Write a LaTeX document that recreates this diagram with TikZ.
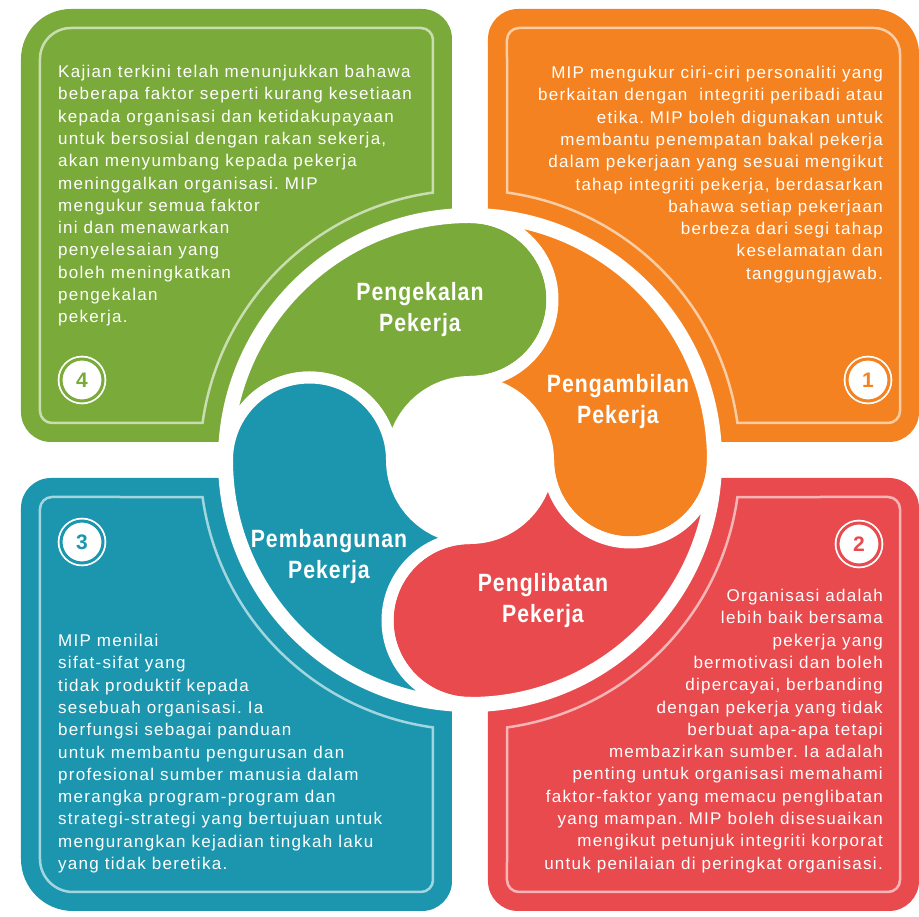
\documentclass[tikz,border=0pt]{standalone}
\usepackage{fontspec}
\setmainfont{Liberation Sans}
\newfontfamily\bodyfont[LetterSpace=7.5]{Liberation Sans}
\newfontfamily\headfont[FakeStretch=0.85,LetterSpace=4]{Liberation Sans}
\frenchspacing

\definecolor{cGreen}{RGB}{122,170,58}
\definecolor{cOrange}{RGB}{245,130,32}
\definecolor{cTeal}{RGB}{27,150,174}
\definecolor{cRed}{RGB}{233,74,78}

\begin{document}
\begin{tikzpicture}[x=1pt, y=1pt]
  % --- Styles (origin = centre of the wheel) ---
    \tikzset{
      rim/.style   = {draw=white, draw opacity=.6, line width=2.5pt},
      petal/.style = {draw=white, line width=12pt, line join=round},
      body/.style  = {font=\bodyfont\fontsize{17}{22.3}\selectfont, text=white, inner sep=0pt},
      head/.style  = {font=\headfont\bfseries\fontsize{25}{31}\selectfont, text=white, align=center, inner sep=0pt},
      badge/.style = {circle, fill=white, draw=white, double=#1, double distance=3pt, line width=1.8pt,
                      minimum size=42pt, inner sep=0pt, text=#1, font=\bfseries\fontsize{21}{21}\selectfont}
    }

    % --- Page ---
    \fill[white] (-470,-457) rectangle (449,460);
    \useasboundingbox (-470,-457) rectangle (449,460);

    % --- Four panels ---
    \fill[cGreen] (-449,48) -- (-449,401) arc[start angle=180,end angle=90,radius=50]
      -- (-48,451) arc[start angle=90,end angle=0,radius=30] -- (-18,18)
      -- (-419,18) arc[start angle=270,end angle=180,radius=30] -- cycle;
    \fill[cOrange] (18,18) -- (18,421) arc[start angle=180,end angle=90,radius=30]
      -- (404,451) arc[start angle=90,end angle=0,radius=45]
      -- (449,48) arc[start angle=0,end angle=-90,radius=30] -- cycle;
    \fill[cTeal] (-18,-18) -- (-419,-18) arc[start angle=90,end angle=180,radius=30]
      -- (-449,-399) arc[start angle=180,end angle=270,radius=52]
      -- (-48,-451) arc[start angle=270,end angle=360,radius=30] -- cycle;
    \fill[cRed] (18,-18) -- (18,-421) arc[start angle=180,end angle=270,radius=30]
      -- (419,-451) arc[start angle=270,end angle=360,radius=30]
      -- (449,-48) arc[start angle=0,end angle=90,radius=30] -- cycle;

    % --- Light inner outlines, bent round the wheel ---
    \draw[rim] (97.88:270) -- (-37,420) arc[start angle=0,end angle=90,radius=12]
      -- (-399,432) arc[start angle=90,end angle=180,radius=31]
      -- (-430,49) arc[start angle=180,end angle=270,radius=12]
      -- (172.12:270) arc[start angle=172.12,end angle=97.88,radius=270] -- cycle;
    \draw[rim] (82.12:270) -- (37,420) arc[start angle=180,end angle=90,radius=12]
      -- (404,432) arc[start angle=90,end angle=0,radius=26]
      -- (430,49) arc[start angle=0,end angle=-90,radius=12]
      -- (7.88:270) arc[start angle=7.88,end angle=82.12,radius=270] -- cycle;
    \draw[rim] (187.88:270) -- (-418,-37) arc[start angle=90,end angle=180,radius=12]
      -- (-430,-399) arc[start angle=180,end angle=270,radius=33]
      -- (-49,-432) arc[start angle=270,end angle=360,radius=12]
      -- (262.12:270) arc[start angle=262.12,end angle=187.88,radius=270] -- cycle;
    \draw[rim] (277.88:270) -- (37,-420) arc[start angle=180,end angle=270,radius=12]
      -- (418,-432) arc[start angle=270,end angle=360,radius=12]
      -- (430,-49) arc[start angle=0,end angle=90,radius=12]
      -- (352.12:270) arc[start angle=352.12,end angle=277.88,radius=270] -- cycle;

    % --- Wheel: white disc and four swirl petals (round head, hollow tail) ---
    \fill[white] (0,0) circle[radius=252];
    \foreach \rot/\col in {0/cGreen,-90/cOrange,-180/cRed,-270/cTeal}
      \filldraw[petal, fill=\col, rotate=\rot] (180:243) arc[start angle=180,end angle=90,radius=243]
        arc[start angle=90,end angle=-90,radius=82.5]
        arc[start angle=90,end angle=180,radius=78]
        arc[start angle=0,end angle=180,radius=82.5] -- cycle;

    % --- Petal titles ---
    \node[head] (hdRetain)  at (-50,150)  {Pengekalan\\Pekerja};
    \node[head] (hdHire)    at (148,58)   {Pengambilan\\Pekerja};
    \node[head] (hdDevelop) at (-141,-97) {Pembangunan\\Pekerja};
    \node[head] (hdEngage)  at (73,-141)  {Penglibatan\\Pekerja};

    % --- Panel texts ---
    \node[body, align=left, anchor=north west] (txtRetain) at (-412,395)
      {Kajian terkini telah menunjukkan bahawa\\ beberapa faktor seperti kurang kesetiaan\\
       kepada organisasi dan ketidakupayaan\\ untuk bersosial dengan rakan sekerja,\\
       akan menyumbang kepada pekerja\\ meninggalkan organisasi. MIP\\ mengukur semua faktor\\
       ini dan menawarkan\\ penyelesaian yang\\ boleh meningkatkan\\ pengekalan\\ pekerja.};
    \node[body, align=right, anchor=north east] (txtHire) at (413,394)
      {MIP mengukur ciri-ciri personaliti yang\\ berkaitan dengan \ integriti peribadi atau\\
       etika. MIP boleh digunakan untuk\\ membantu penempatan bakal pekerja\\
       dalam pekerjaan yang sesuai mengikut\\ tahap integriti pekerja, berdasarkan\\
       bahawa setiap pekerjaan\\ berbeza dari segi tahap\\ keselamatan dan\\ tanggungjawab.};
    \node[body, align=left, anchor=north west] (txtDevelop) at (-412,-174)
      {MIP menilai\\ sifat-sifat yang\\ tidak produktif kepada\\ sesebuah organisasi. Ia\\
       berfungsi sebagai panduan\\ untuk membantu pengurusan dan\\ profesional sumber manusia dalam\\
       merangka program-program dan\\ strategi-strategi yang bertujuan untuk\\
       mengurangkan kejadian tingkah laku\\ yang tidak beretika.};
    \node[body, align=right, anchor=north east] (txtEngage) at (413,-129)
      {Organisasi adalah\\ lebih baik bersama\\ pekerja yang\\ bermotivasi dan boleh\\
       dipercayai, berbanding\\ dengan pekerja yang tidak\\ berbuat apa-apa tetapi\\
       membazirkan sumber. Ia adalah\\ penting untuk organisasi memahami\\
       faktor-faktor yang memacu penglibatan\\ yang mampan. MIP boleh disesuaikan\\
       mengikut petunjuk integriti korporat\\ untuk penilaian di peringkat organisasi.};

    % --- Number badges ---
    \node[badge=cOrange] (b1) at (398,80)   {1};
    \node[badge=cRed]    (b2) at (389,-84)  {2};
    \node[badge=cTeal]   (b3) at (-388,-82) {3};
    \node[badge=cGreen]  (b4) at (-388,80)  {4};

\end{tikzpicture}
\end{document}
